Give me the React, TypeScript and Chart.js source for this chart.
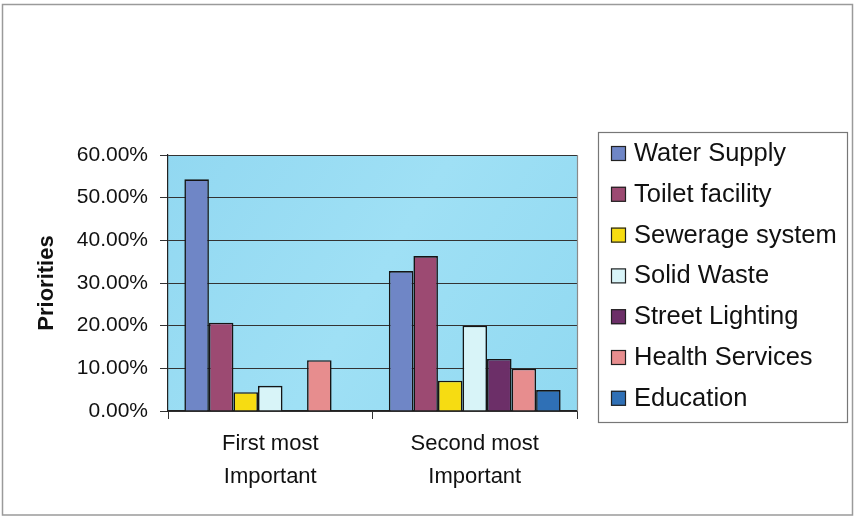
import React, { useEffect, useRef } from "react";
import { Chart, registerables } from "chart.js";

Chart.register(...registerables);

const categories: string[][] = [
  ["First most", "Important"],
  ["Second most", "Important"],
];

const seriesNames = [
  "Water Supply",
  "Toilet facility",
  "Sewerage system",
  "Solid Waste",
  "Street Lighting",
  "Health Services",
  "Education",
];

const seriesColors = [
  "#6f86c6",
  "#9c4a72",
  "#f6dc12",
  "#d8f4f8",
  "#6c2f68",
  "#e78d8e",
  "#2f70b6",
];

const waterSupply = [54.3, 32.8];
const toiletFacility = [20.7, 36.3];
const sewerageSystem = [4.4, 7.1];
const solidWaste = [5.9, 20.0];
const streetLighting = [0, 12.2];
const healthServices = [11.9, 9.9];
const education = [0, 4.9];

const seriesValues = [
  waterSupply,
  toiletFacility,
  sewerageSystem,
  solidWaste,
  streetLighting,
  healthServices,
  education,
];

const yTickMax = 60;
const yTickStep = 10;
const yAxisTitle = "Priorities";

const FONT = "'Liberation Sans', Arial, sans-serif";

const W = 856;
const H = 519;
const AREA_LEFT = 168;
const AREA_TOP = 155;
const AREA_RIGHT = 577;
const AREA_BOTTOM = 411;

const framePlugin = {
  id: "framePlugin",
  beforeDraw(chart: any) {
    const { ctx, chartArea } = chart;
    ctx.save();
    ctx.fillStyle = "#ffffff";
    ctx.fillRect(0, 0, chart.width, chart.height);
    ctx.strokeStyle = "#9a9a9a";
    ctx.lineWidth = 1.5;
    ctx.strokeRect(2.5, 4.5, 850, 510.5);
    const g = ctx.createLinearGradient(chartArea.left, chartArea.top, chartArea.right, chartArea.bottom);
    g.addColorStop(0, "#92d8f1");
    g.addColorStop(0.5, "#9fe0f5");
    g.addColorStop(1, "#91d9f1");
    ctx.fillStyle = g;
    ctx.fillRect(chartArea.left, chartArea.top, chartArea.right - chartArea.left, chartArea.bottom - chartArea.top);
    ctx.restore();
  },
  afterDatasetsDraw(chart: any) {
    const { ctx, chartArea } = chart;
    ctx.save();
    ctx.strokeStyle = "#8a8a8a";
    ctx.lineWidth = 1.2;
    ctx.beginPath();
    ctx.moveTo(chartArea.right + 0.5, chartArea.top);
    ctx.lineTo(chartArea.right + 0.5, chartArea.bottom);
    ctx.stroke();
    ctx.restore();
  },
  afterDraw(chart: any) {
    const { ctx } = chart;
    ctx.save();
    ctx.strokeStyle = "#777777";
    ctx.lineWidth = 1.2;
    ctx.strokeRect(598.5, 132.5, 249, 290);
    ctx.font = `25.5px ${FONT}`;
    ctx.textBaseline = "middle";
    ctx.textAlign = "left";
    chart.data.datasets.forEach((ds: any, i: number) => {
      const cy = 153 + i * 40.8;
      ctx.fillStyle = ds.backgroundColor;
      ctx.fillRect(611, cy - 7, 15, 15);
      ctx.strokeStyle = "#222222";
      ctx.lineWidth = 1.2;
      ctx.strokeRect(611.5, cy - 6.5, 14, 14);
      ctx.fillStyle = "#111111";
      ctx.fillText(ds.label, 634, cy + 1);
    });
    ctx.restore();
  },
};

export default function App() {
  const canvasRef = useRef<HTMLCanvasElement | null>(null);

  useEffect(() => {
    document.body.style.margin = "0";
    const canvas = canvasRef.current;
    if (!canvas) return;
    const chart = new Chart(canvas, {
      type: "bar",
      data: {
        labels: categories,
        datasets: seriesNames.map((name, i) => ({
          label: name,
          data: seriesValues[i],
          backgroundColor: seriesColors[i],
          borderColor: "#151515",
          borderWidth: (c: any) => (c.raw === 0 ? 0 : 1.6),
          categoryPercentage: 0.84,
          barPercentage: 1.0,
        })),
      },
      options: {
        responsive: false,
        animation: false,
        devicePixelRatio: 1,
        layout: {
          padding: { left: 0, top: AREA_TOP, right: W - AREA_RIGHT, bottom: 0 },
        },
        plugins: {
          legend: { display: false },
          tooltip: { enabled: false },
        },
        scales: {
          x: {
            grid: {
              display: true,
              drawOnChartArea: false,
              drawTicks: true,
              tickLength: 8,
              color: "#333333",
              lineWidth: 1,
            },
            border: { display: true, color: "#222222", width: 1.2 },
            ticks: {
              color: "#111111",
              font: { family: FONT, size: 22, lineHeight: 1.5 },
              padding: 8,
              maxRotation: 0,
              autoSkip: false,
            },
            afterFit(scale: any) {
              scale.height = H - AREA_BOTTOM;
            },
          },
          y: {
            min: 0,
            max: yTickMax,
            grid: {
              color: "#333333",
              lineWidth: 1,
              drawTicks: true,
              tickLength: 8,
              tickColor: "#333333",
            },
            border: { display: true, color: "#222222", width: 1.2 },
            ticks: {
              stepSize: yTickStep,
              color: "#111111",
              font: { family: FONT, size: 21 },
              padding: 12,
              callback: (v: any) => Number(v).toFixed(2) + "%",
            },
            title: {
              display: true,
              text: yAxisTitle,
              color: "#111111",
              font: { family: FONT, size: 22, weight: "bold" },
              padding: { top: 34, bottom: 0 },
            },
            afterFit(scale: any) {
              scale.width = AREA_LEFT;
            },
          },
        },
      },
      plugins: [framePlugin],
    });
    return () => chart.destroy();
  }, []);

  return (
    <div style={{ width: W, height: H }}>
      <canvas ref={canvasRef} width={W} height={H} style={{ display: "block", width: W, height: H }} />
    </div>
  );
}
